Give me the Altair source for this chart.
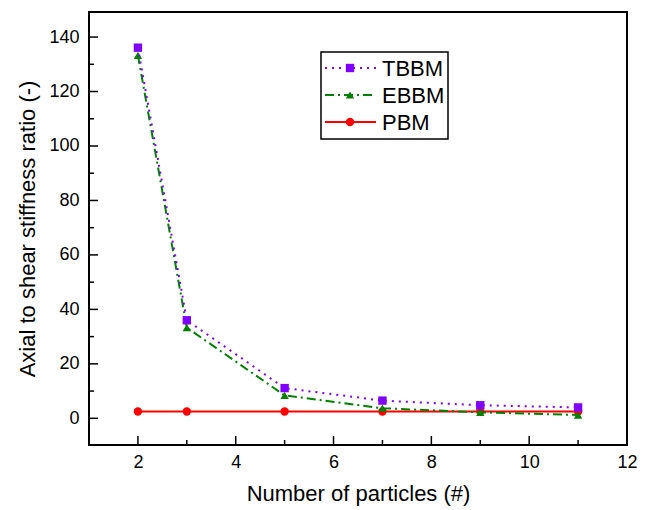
import altair as alt
import pandas as pd

# ---- data ----
x_vals = [2, 3, 5, 7, 9, 11]
tbbm = [136.1, 36.0, 11.1, 6.5, 4.8, 4.0]
ebbm = [133.3, 33.3, 8.4, 3.7, 2.2, 1.2]
pbm = [2.5, 2.5, 2.5, 2.5, 2.5, 2.5]
series_names = ["TBBM", "EBBM", "PBM"]
series_colors = ["#8000FF", "#008000", "#FF0000"]
series_dash = [[2, 5], [9, 4, 2, 4], [1, 0]]
series_shapes = ["square", "triangle-up", "circle"]

y_major = [0, 20, 40, 60, 80, 100, 120, 140]
y_minor = [10, 30, 50, 70, 90, 110, 130]
x_major = [2, 4, 6, 8, 10, 12]
x_minor = [3, 5, 7, 9, 11]

W, H = 538, 433
FONT = "Liberation Sans"
xscale = alt.Scale(domain=[1, 12], nice=False, zero=False)
yscale = alt.Scale(domain=[-9.8, 149.2], nice=False, zero=False)

xaxis = alt.Axis(values=x_major, title="Number of particles (#)", ticks=False,
                 domain=False, grid=False, labelFontSize=18, titleFontSize=22,
                 labelFont=FONT, titleFont=FONT, labelColor="black", titleColor="black",
                 titleFontWeight="normal", labelPadding=8, titlePadding=12,
                 labelFlush=False)
yaxis = alt.Axis(values=y_major, title="Axial to shear stiffness ratio (-)", ticks=False,
                 domain=False, grid=False, labelFontSize=18, titleFontSize=22,
                 labelFont=FONT, titleFont=FONT, labelColor="black", titleColor="black",
                 titleFontWeight="normal", labelPadding=10, titlePadding=9,
                 labelFlush=False)

series_vals = [tbbm, ebbm, pbm]
frames = []
for name, vals in zip(series_names, series_vals):
    frames.append(pd.DataFrame({"x": x_vals, "y": vals, "series": name}))
df = pd.concat(frames, ignore_index=True)

layers = []

# inward ticks
ymaj = pd.DataFrame({"y": y_major})
ymin = pd.DataFrame({"y": y_minor})
xmaj = pd.DataFrame({"x": x_major})
xmin = pd.DataFrame({"x": x_minor})
layers.append(alt.Chart(ymaj).mark_rule(color="black", strokeWidth=1.5).encode(
    y=alt.Y("y:Q", scale=yscale, axis=yaxis), x=alt.value(0), x2=alt.value(9)))
layers.append(alt.Chart(ymin).mark_rule(color="black", strokeWidth=1.5).encode(
    y=alt.Y("y:Q", scale=yscale, axis=yaxis), x=alt.value(0), x2=alt.value(5)))
layers.append(alt.Chart(xmaj).mark_rule(color="black", strokeWidth=1.5).encode(
    x=alt.X("x:Q", scale=xscale, axis=xaxis), y=alt.value(H), y2=alt.value(H - 9)))
layers.append(alt.Chart(xmin).mark_rule(color="black", strokeWidth=1.5).encode(
    x=alt.X("x:Q", scale=xscale, axis=xaxis), y=alt.value(H), y2=alt.value(H - 5)))

# series (draw PBM first, then EBBM, then TBBM)
for i in [2, 1, 0]:
    name = series_names[i]
    sub = alt.Chart(df).transform_filter(alt.datum.series == name)
    layers.append(sub.mark_line(color=series_colors[i], strokeWidth=2,
                                strokeDash=series_dash[i]).encode(
        x=alt.X("x:Q", scale=xscale, axis=xaxis),
        y=alt.Y("y:Q", scale=yscale, axis=yaxis)))
    layers.append(sub.mark_point(color=series_colors[i], filled=True, opacity=1,
                                 shape=series_shapes[i], size=70).encode(
        x=alt.X("x:Q", scale=xscale, axis=xaxis),
        y=alt.Y("y:Q", scale=yscale, axis=yaxis)))

# legend
one = pd.DataFrame({"a": [0]})
layers.append(alt.Chart(one).mark_rect(fill="white", stroke="black", strokeWidth=1.5).encode(
    x=alt.value(232), x2=alt.value(359), y=alt.value(40), y2=alt.value(127)))
row_y = [56, 83, 110]
for i, name in enumerate(series_names):
    layers.append(alt.Chart(one).mark_rule(color=series_colors[i], strokeWidth=2,
                                           strokeDash=series_dash[i]).encode(
        x=alt.value(236), x2=alt.value(287), y=alt.value(row_y[i])))
    layers.append(alt.Chart(one).mark_point(color=series_colors[i], filled=True, opacity=1,
                                            shape=series_shapes[i], size=70).encode(
        x=alt.value(261), y=alt.value(row_y[i])))
    layers.append(alt.Chart(pd.DataFrame({"t": [name]})).mark_text(
        align="left", baseline="middle", font=FONT, fontSize=22, color="black").encode(
        x=alt.value(293), y=alt.value(row_y[i] + 1), text="t:N"))

chart = alt.layer(*layers).properties(
    width=W, height=H,
    background="white",
    autosize=alt.AutoSizeParams(type="none"),
    padding={"left": 81, "top": 4, "right": 10, "bottom": 70},
).configure_view(stroke="black", strokeWidth=2)

chart.save("out.html", embed_options={"renderer": "svg", "actions": False})
